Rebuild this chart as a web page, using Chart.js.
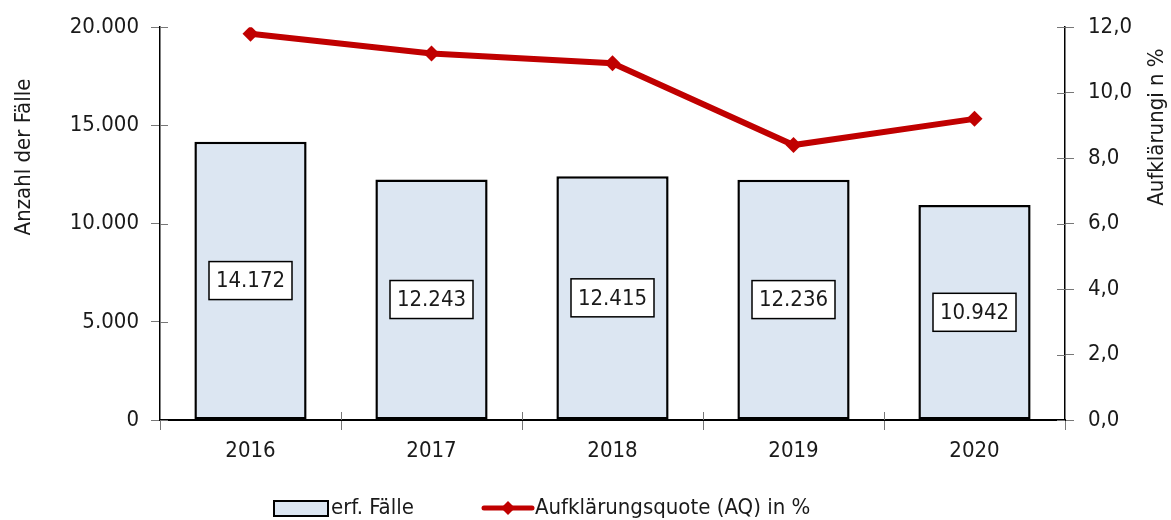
<!DOCTYPE html>
<html lang="de">
<head>
<meta charset="utf-8">
<title>Erfasste Fälle und Aufklärungsquote</title>
<script src="https://cdn.jsdelivr.net/npm/chart.js@4/dist/chart.umd.min.js"></script>
<style>
  html, body { margin: 0; padding: 0; background: #fff; }
  #wrap { width: 1171px; height: 520px; position: relative; }
</style>
</head>
<body>
<div id="wrap"><canvas id="chart" width="1171" height="520"></canvas></div>
<script>
const YEARS  = ['2016', '2017', '2018', '2019', '2020'];
const FAELLE = [14172, 12243, 12415, 12236, 10942];
const QUOTE  = [11.8, 11.2, 10.9, 8.4, 9.2];

const LABEL_FAELLE = 'erf. Fälle';
const LABEL_QUOTE  = 'Aufklärungsquote (AQ) in %';
const TITLE_LEFT   = 'Anzahl der Fälle';
const TITLE_RIGHT  = 'Aufklärungi n %';

// ───────────────────────────────────────────────────────────────────────────

const FONT = "'Liberation Sans Narrow', 'DejaVu Sans Condensed', 'Roboto Condensed', sans-serif";
const FS   = 22;
const TXT  = '#1a1a1a';
const RED  = '#c00000';
const BLUE = '#dce6f2';

function fmtThousands(v) {
  return String(Math.round(v)).replace(/\B(?=(\d{3})+(?!\d))/g, '.');
}
function fmtPct(v) {
  return v.toFixed(1).replace('.', ',');
}

// value boxes in the middle of each bar, axis titles and the legend
const extras = {
  id: 'extras',
  beforeDatasetsDraw(chart) {
    // inner half of the tick marks, so they cross the axis lines
    const ctx = chart.ctx;
    const { y, y1, x } = chart.scales;
    ctx.save();
    ctx.lineWidth = 1;
    ctx.strokeStyle = '#777';
    y.ticks.forEach((t, i) => {
      const py = Math.round(y.getPixelForTick(i)) + 0.5;
      ctx.beginPath(); ctx.moveTo(y.right, py); ctx.lineTo(y.right + 8, py); ctx.stroke();
    });
    y1.ticks.forEach((t, i) => {
      const py = Math.round(y1.getPixelForTick(i)) + 0.5;
      ctx.beginPath(); ctx.moveTo(y1.left - 8, py); ctx.lineTo(y1.left, py); ctx.stroke();
    });
    const w = (x.right - x.left) / YEARS.length;
    for (let i = 1; i < YEARS.length; i++) {
      const px = Math.round(x.left + i * w) + 0.5;
      ctx.beginPath(); ctx.moveTo(px, x.top - 8); ctx.lineTo(px, x.top); ctx.stroke();
    }
    ctx.restore();
  },
  afterDatasetsDraw(chart) {
    const ctx = chart.ctx;
    const idx = chart.data.datasets.findIndex(d => d.type === 'bar');
    const meta = chart.getDatasetMeta(idx);
    const values = chart.data.datasets[idx].data;
    ctx.save();
    ctx.font = FS + 'px ' + FONT;
    ctx.textAlign = 'center';
    ctx.textBaseline = 'middle';
    meta.data.forEach((bar, i) => {
      const cx = bar.x;
      const cy = (bar.y + bar.base) / 2;
      const w = 83, h = 38;
      ctx.fillStyle = '#fff';
      ctx.fillRect(cx - w / 2, cy - h / 2, w, h);
      ctx.strokeStyle = '#000';
      ctx.lineWidth = 1.5;
      ctx.strokeRect(cx - w / 2, cy - h / 2, w, h);
      ctx.fillStyle = TXT;
      ctx.fillText(fmtThousands(values[i]), cx, cy + 1);
    });
    ctx.restore();
  },
  afterDraw(chart) {
    const ctx = chart.ctx;
    ctx.save();
    ctx.fillStyle = TXT;
    ctx.font = FS + 'px ' + FONT;
    ctx.textBaseline = 'middle';
    ctx.textAlign = 'center';

    ctx.save();
    ctx.translate(24, 157);
    ctx.rotate(-Math.PI / 2);
    ctx.fillText(TITLE_LEFT, 0, 0);
    ctx.restore();

    ctx.save();
    ctx.translate(1157, 127);
    ctx.rotate(-Math.PI / 2);
    ctx.fillText(TITLE_RIGHT, 0, 0);
    ctx.restore();

    // legend
    const ly = 508;
    ctx.fillStyle = BLUE;
    ctx.fillRect(274, ly - 7, 54, 15);
    ctx.strokeStyle = '#000';
    ctx.lineWidth = 2;
    ctx.strokeRect(274, ly - 7, 54, 15);
    ctx.fillStyle = TXT;
    ctx.textAlign = 'left';
    ctx.fillText(LABEL_FAELLE, 331, ly);

    ctx.strokeStyle = RED;
    ctx.lineWidth = 5;
    ctx.lineCap = 'round';
    ctx.beginPath();
    ctx.moveTo(484, ly);
    ctx.lineTo(532, ly);
    ctx.stroke();
    ctx.fillStyle = RED;
    ctx.beginPath();
    ctx.moveTo(508, ly - 7);
    ctx.lineTo(515, ly);
    ctx.lineTo(508, ly + 7);
    ctx.lineTo(501, ly);
    ctx.closePath();
    ctx.fill();
    ctx.fillStyle = TXT;
    ctx.fillText(LABEL_QUOTE, 535, ly);
    ctx.restore();
  }
};

new Chart(document.getElementById('chart'), {
  type: 'bar',
  data: {
    labels: YEARS,
    datasets: [
      {
        type: 'line',
        label: LABEL_QUOTE,
        data: QUOTE,
        yAxisID: 'y1',
        borderColor: RED,
        backgroundColor: RED,
        borderWidth: 6,
        pointStyle: 'rectRot',
        pointRadius: 8,
        pointBorderWidth: 0,
        tension: 0,
        order: 0,
      },
      {
        type: 'bar',
        label: LABEL_FAELLE,
        data: FAELLE,
        yAxisID: 'y',
        backgroundColor: BLUE,
        borderColor: '#000',
        borderWidth: 2.5,
        borderSkipped: false,
        categoryPercentage: 0.62,
        barPercentage: 1,
        order: 1,
      }
    ]
  },
  options: {
    responsive: false,
    animation: false,
    layout: { padding: { top: 27, right: 0, left: 0, bottom: 0 } },
    plugins: {
      legend: { display: false },
      tooltip: { enabled: false },
    },
    scales: {
      x: {
        afterFit(s) { s.height = 100; },
        grid: { offset: true, drawOnChartArea: false, tickLength: 10, color: '#777' },
        border: { color: '#000', width: 2 },
        ticks: { color: TXT, font: { family: FONT, size: FS }, padding: 8 },
      },
      y: {
        position: 'left',
        min: 0, max: 20000,
        afterFit(s) { s.width = 160; },
        grid: { drawOnChartArea: false, tickLength: 9, color: '#777' },
        border: { color: '#000', width: 1.5 },
        ticks: {
          stepSize: 5000,
          color: TXT,
          font: { family: FONT, size: FS },
          padding: 12,
          callback: v => fmtThousands(v),
        },
      },
      y1: {
        position: 'right',
        min: 0, max: 12,
        afterFit(s) { s.width = 106; },
        grid: { drawOnChartArea: false, tickLength: 9, color: '#777' },
        border: { color: '#000', width: 1.5 },
        ticks: {
          stepSize: 2,
          color: TXT,
          font: { family: FONT, size: FS },
          padding: 14,
          callback: v => fmtPct(v),
        },
      },
    },
  },
  plugins: [extras],
});
</script>
</body>
</html>
